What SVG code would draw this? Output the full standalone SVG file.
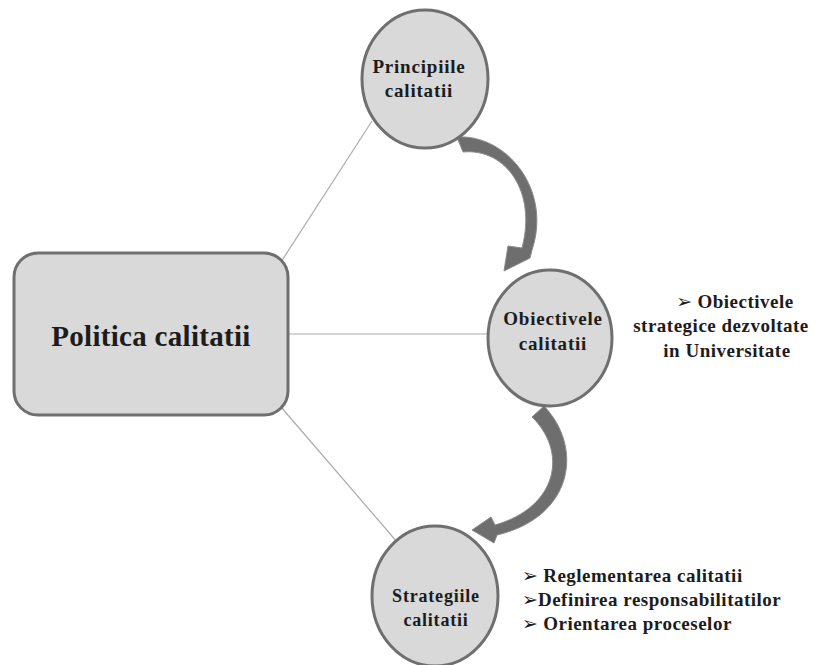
<svg xmlns="http://www.w3.org/2000/svg" width="831" height="665" viewBox="0 0 831 665">
<style>
.node{fill:#d9d9d9;stroke:#6f6f6f;stroke-width:3}
.lbl{font-family:"Liberation Serif","Times New Roman",serif;font-weight:bold;fill:#1c1c1c;text-anchor:middle;letter-spacing:0.8px}
.side{font-family:"Liberation Serif","Times New Roman",serif;font-weight:bold;fill:#1c1c1c;font-size:19px;letter-spacing:0.5px}
.bul{font-family:"DejaVu Sans",sans-serif;font-weight:normal;font-size:19px;letter-spacing:0}
.conn{stroke:#ababab;stroke-width:1.2;fill:none}
.carrow{fill:#6e6e6e;stroke:#8a8a8a;stroke-width:1}
</style>
<rect width="831" height="665" fill="#ffffff"/>
<g id="connectors">
<line class="conn" x1="281" y1="262" x2="372" y2="121"/>
<line class="conn" x1="289" y1="334" x2="489" y2="334"/>
<line class="conn" x1="281" y1="407" x2="398" y2="543"/>
<path class="carrow" d="M457,137 C507,134 552,190 532,250 L530,258 L504,271 L508,246 L522,248 C537,192 506,148 463,152 Z"/>
<path class="carrow" d="M544,406 C584,448 573,517 497,535 L494,543 L472,530 L491,517 L495,525 C558,507 568,452 532,417 Z"/>
</g>
<g id="politica">
<rect class="node" x="14" y="253" width="274" height="162" rx="24"/>
<text class="lbl" x="151" y="346" font-size="29" style="letter-spacing:0.3px">Politica calitatii</text>
</g>
<g id="principiile">
<ellipse class="node" cx="425" cy="79" rx="63" ry="69"/>
<text class="lbl" x="419" y="73" font-size="19">Principiile</text>
<text class="lbl" x="419" y="97" font-size="19">calitatii</text>
</g>
<g id="obiectivele">
<ellipse class="node" cx="550" cy="338" rx="62" ry="68"/>
<text class="lbl" x="553" y="325" font-size="19">Obiectivele</text>
<text class="lbl" x="553" y="350" font-size="19">calitatii</text>
</g>
<g id="strategiile">
<ellipse class="node" cx="435" cy="596" rx="63" ry="70"/>
<text class="lbl" x="436" y="602" font-size="18">Strategiile</text>
<text class="lbl" x="436" y="626" font-size="18">calitatii</text>
</g>
<g id="obiective-text">
<text class="side" x="735" y="308" text-anchor="middle"><tspan class="bul">➢</tspan> Obiectivele</text>
<text class="side" x="721" y="332" text-anchor="middle">strategice dezvoltate</text>
<text class="side" x="727" y="357" text-anchor="middle">in Universitate</text>
</g>
<g id="strategii-text">
<text class="side" x="522" y="582"><tspan class="bul">➢</tspan> Reglementarea calitatii</text>
<text class="side" x="522" y="606"><tspan class="bul">➢</tspan>Definirea responsabilitatilor</text>
<text class="side" x="522" y="630"><tspan class="bul">➢</tspan> Orientarea proceselor</text>
</g>
</svg>
